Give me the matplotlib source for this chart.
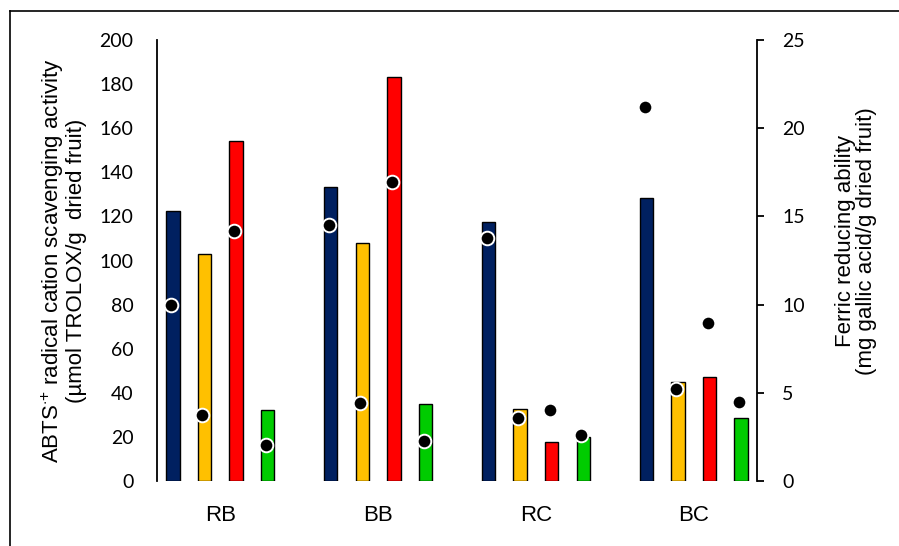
import matplotlib
matplotlib.use("Agg")
import matplotlib.pyplot as plt
from matplotlib.lines import Line2D
import numpy as np

plt.rcParams['font.family'] = ['Liberation Sans', 'DejaVu Sans']
plt.rcParams['mathtext.fontset'] = 'custom'
plt.rcParams['mathtext.rm'] = 'Liberation Sans'
plt.rcParams['mathtext.it'] = 'Liberation Sans:italic'

# Samples and treatments
groups = ["RB", "BB", "RC", "BC"]
series_colors = ["#002060", "#FFC000", "#FF0000", "#00CC00"]

# ABTS radical cation scavenging (left axis), one list per treatment
abts_s1 = [122.5, 133.5, 117.5, 128.5]
abts_s2 = [103, 108, 32.5, 45]
abts_s3 = [154, 183, 17.5, 47]
abts_s4 = [32, 35, 20, 28.5]

# Ferric reducing ability (right axis), one list per treatment
frap_s1 = [10.0, 14.5, 13.75, 21.2]
frap_s2 = [3.75, 4.4, 3.55, 5.2]
frap_s3 = [14.2, 16.95, 4.05, 8.95]
frap_s4 = [2.05, 2.25, 2.6, 4.5]

abts = [abts_s1, abts_s2, abts_s3, abts_s4]
frap = [frap_s1, frap_s2, frap_s3, frap_s4]

fig = plt.figure(figsize=(8.99, 5.46), dpi=100)
ax = fig.add_axes([157/899, 65/546, 600/899, 441/546])
ax2 = ax.twinx()

x = np.arange(len(groups))
offsets = [-0.3, -0.1, 0.1, 0.3]
width = 0.085

for vals, off, col in zip(abts, offsets, series_colors):
    ax.bar(x + off, vals, width=width, color=col, edgecolor='black',
           linewidth=1.0, zorder=2)

for vals, off in zip(frap, offsets):
    ax2.plot(x + off - 0.012, vals, linestyle='none', marker='o',
             markersize=9.8, markerfacecolor='black',
             markeredgecolor='white', markeredgewidth=1.4, zorder=3)

ax.set_xlim(-0.4, 3.4)
ax.set_ylim(0, 200)
ax2.set_ylim(0, 25)

ax.set_yticks(np.arange(0, 201, 20))
ax2.set_yticks(np.arange(0, 26, 5))
ax.set_xticks(x)
ax.set_xticklabels(groups, fontsize=16)
ax.tick_params(axis='x', length=0, pad=17)
ax.tick_params(axis='y', length=0, pad=17, labelsize=14)
ax2.tick_params(axis='y', length=5, width=1.3, pad=13, labelsize=14,
                direction='out')
for lab in ax.get_yticklabels() + ax2.get_yticklabels():
    lab.set_family(['Lato', 'DejaVu Sans'])

for a in (ax, ax2):
    a.spines['top'].set_visible(False)
    a.spines['bottom'].set_visible(False)
ax.spines['right'].set_visible(False)
ax2.spines['left'].set_visible(False)
ax.spines['left'].set_linewidth(1.3)
ax2.spines['right'].set_linewidth(1.3)

ax.set_ylabel("ABTS$^{\\cdot{+}}$ radical cation scavenging activity\n"
              "(\u00b5mol TROLOX/g  dried fruit)", fontsize=16,
              linespacing=1.0)
ax.yaxis.set_label_coords(-0.117, 0.5)
ax2.set_ylabel("Ferric reducing ability\n(mg gallic acid/g dried fruit)",
               fontsize=16, rotation=90, linespacing=1.0)
ax2.yaxis.set_label_coords(1.130, 0.545)

# outer frame lines
fig.add_artist(Line2D([10/899, 10/899], [0, 1 - 11/546], color='black',
                      linewidth=1.2, transform=fig.transFigure))
fig.add_artist(Line2D([10/899, 1], [1 - 11/546, 1 - 11/546], color='black',
                      linewidth=1.2, transform=fig.transFigure))

fig.savefig("out.png", dpi=100)
